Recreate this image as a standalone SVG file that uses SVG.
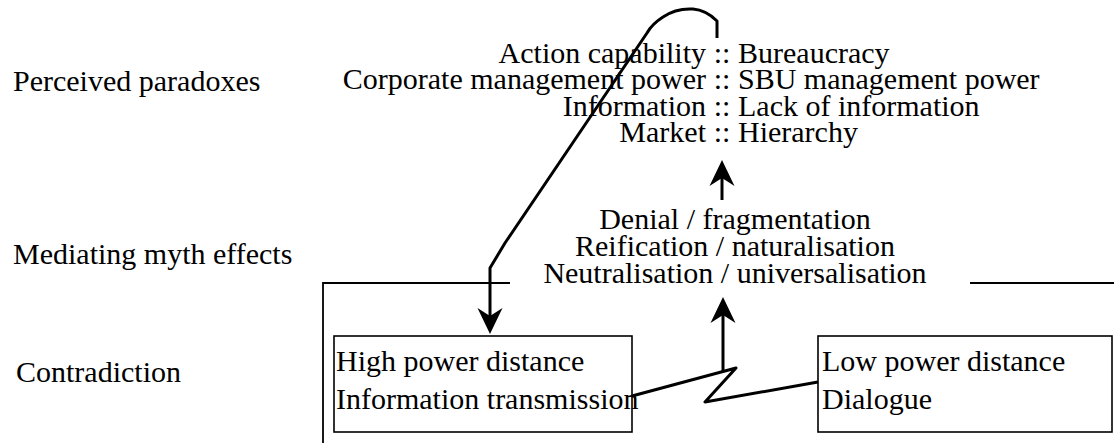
<svg xmlns="http://www.w3.org/2000/svg" width="1114" height="443" viewBox="0 0 1114 443">
  <style>
    text { font-family: "Liberation Serif", "Times New Roman", serif; font-size: 30px; fill: #000; }
    .mid { text-anchor: middle; }
    .end { text-anchor: end; }
    .box { fill: none; stroke: #000; stroke-width: 1.6; }
    .frame { fill: none; stroke: #000; stroke-width: 1.8; }
    .link { fill: none; stroke: #000; stroke-width: 3; stroke-linejoin: round; stroke-linecap: butt; }
  </style>
  <defs>
    <marker id="head" viewBox="-28 -14 30 28" refX="-12" refY="0" markerWidth="30" markerHeight="28" markerUnits="userSpaceOnUse" orient="auto">
      <path d="M0 0 L-26 -12.5 L-18 0 L-26 12.5 Z" fill="#000"/>
    </marker>
  </defs>

  <rect width="1114" height="443" fill="#fff"/>

  <!-- row labels -->
  <g id="labels">
    <text x="13" y="91">Perceived paradoxes</text>
    <text x="13" y="264">Mediating myth effects</text>
    <text x="16" y="382">Contradiction</text>
  </g>

  <!-- paradox pairs, aligned on the :: column -->
  <g id="paradoxes">
    <text><tspan class="end" x="706" y="63">Action capability</tspan><tspan class="mid" x="722" y="63">::</tspan><tspan x="738" y="63">Bureaucracy</tspan></text>
    <text><tspan class="end" x="706" y="89">Corporate management power</tspan><tspan class="mid" x="722" y="89">::</tspan><tspan x="738" y="89">SBU management power</tspan></text>
    <text><tspan class="end" x="706" y="116">Information</tspan><tspan class="mid" x="722" y="116">::</tspan><tspan x="738" y="116">Lack of information</tspan></text>
    <text><tspan class="end" x="706" y="142">Market</tspan><tspan class="mid" x="722" y="142">::</tspan><tspan x="738" y="142">Hierarchy</tspan></text>
  </g>

  <!-- myth effects -->
  <g id="myth-effects">
    <text class="mid" x="735" y="229">Denial / fragmentation</text>
    <text class="mid" x="735" y="256">Reification / naturalisation</text>
    <text class="mid" x="735" y="283">Neutralisation / universalisation</text>
  </g>

  <!-- outer frame of the contradiction level -->
  <g id="frame">
    <polyline class="frame" points="323,443 323,283 510,283"/>
    <line class="frame" x1="970" y1="283" x2="1114" y2="283" stroke-width="2.6"/>
  </g>

  <g id="high-power">
    <rect class="box" x="334" y="336" width="298" height="96"/>
    <text x="336" y="371">High power distance</text>
    <text x="336" y="409">Information transmission</text>
  </g>

  <g id="low-power">
    <rect class="box" x="818" y="336" width="294" height="96"/>
    <text x="822" y="371">Low power distance</text>
    <text x="822" y="409">Dialogue</text>
  </g>

  <!-- connectors -->
  <g id="connectors">
    <path class="link" d="M717 38 L717 21 Q706 10 693 9 Q676 8 663 17 Q652 24 647 33 L505 243 L490 268 L490 322" marker-end="url(#head)"/>
    <line class="link" x1="722" y1="200" x2="722" y2="172" marker-end="url(#head)"/>
    <polyline class="link" points="632,396 736,368 705,402 818,382"/>
    <line class="link" x1="723" y1="371" x2="723" y2="309" marker-end="url(#head)"/>
  </g>
</svg>
